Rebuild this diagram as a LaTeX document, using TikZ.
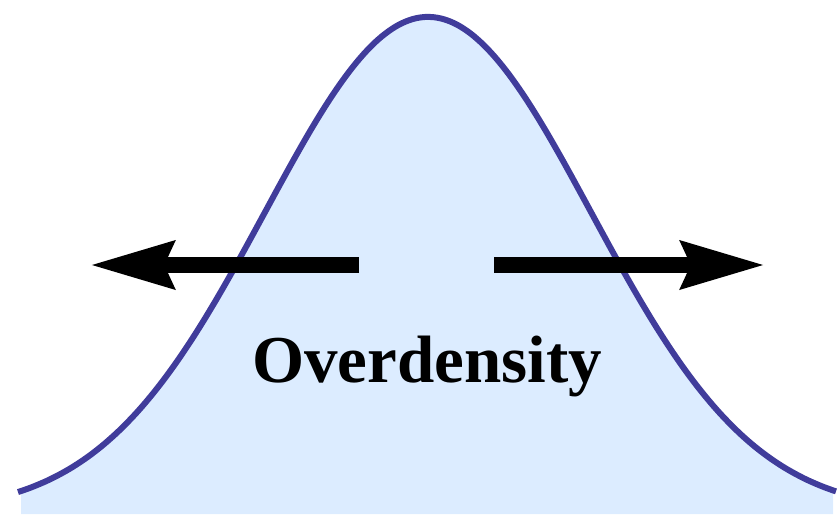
\documentclass[tikz,border=0pt]{standalone}
\usepackage{fontspec}
\setmainfont{Liberation Serif}
\usetikzlibrary{arrows.meta}
\definecolor{curvec}{RGB}{64,60,155}
\definecolor{fillc}{RGB}{220,236,255}
\tikzset{
  curveline/.style={draw=curvec, line width=6pt, line cap=butt},
  bigarrow/.style={draw=black, line width=16pt, -{Stealth[length=83pt,width=46pt,inset=9pt]}},
  label/.style={font=\bfseries\fontsize{67}{67}\selectfont, inner sep=0pt, anchor=base}
}
\begin{document}
\begin{tikzpicture}[x=1pt,y=-1pt]
\useasboundingbox (0,0) rectangle (840,514);
\fill[fillc] (21,514) -- plot[domain=21:833, samples=200, smooth] (\x,{513-496*exp(-0.5*((\x-428)/163)^2)}) -- (833,514) -- cycle;
\draw[curveline] plot[domain=18:836, samples=200, smooth] (\x,{513-496*exp(-0.5*((\x-428)/163)^2)});
\coordinate (LA) at (359,265);
\coordinate (LB) at (90,265);
\coordinate (RA) at (494,265);
\coordinate (RB) at (765,265);
\draw[bigarrow] (LA) -- (LB);
\draw[bigarrow] (RA) -- (RB);
\node[label] (txt) at (427,382) {Overdensity};
\end{tikzpicture}
\end{document}
